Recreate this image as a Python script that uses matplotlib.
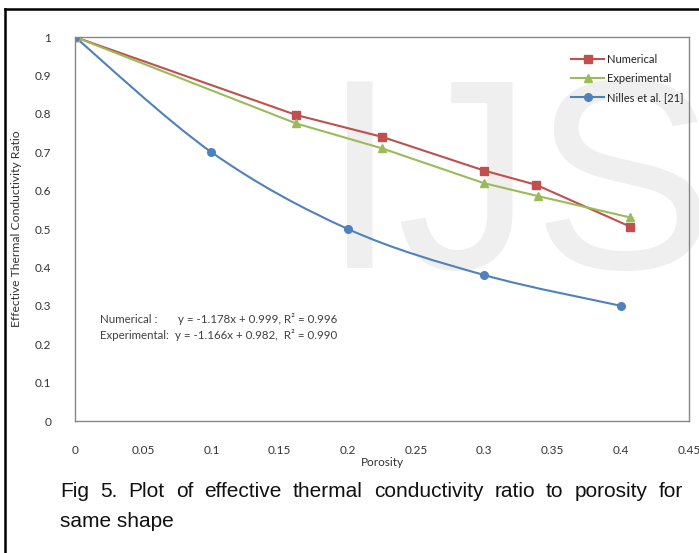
import numpy as np
import matplotlib.pyplot as plt
from matplotlib.path import Path
from matplotlib.patches import PathPatch
from matplotlib.lines import Line2D

# data
num_x = [0, 0.162, 0.225, 0.300, 0.338, 0.407]
num_y = [1.0, 0.797, 0.740, 0.652, 0.615, 0.506]
exp_x = [0, 0.162, 0.225, 0.300, 0.339, 0.407]
exp_y = [1.0, 0.775, 0.710, 0.619, 0.586, 0.530]
nil_x = [0, 0.1, 0.2, 0.3, 0.4]
nil_y = [1.0, 0.7, 0.5, 0.38, 0.3]

x_ticks = [0, 0.05, 0.1, 0.15, 0.2, 0.25, 0.3, 0.35, 0.4, 0.45]
x_labels = ['0', '0.05', '0.1', '0.15', '0.2', '0.25', '0.3', '0.35', '0.4', '0.45']
y_ticks = [0, 0.1, 0.2, 0.3, 0.4, 0.5, 0.6, 0.7, 0.8, 0.9, 1.0]
y_labels = ['0', '0.1', '0.2', '0.3', '0.4', '0.5', '0.6', '0.7', '0.8', '0.9', '1']

caption1 = "Fig 5. Plot of effective thermal conductivity ratio to porosity for"
caption2 = "same shape"

RED, GREEN, BLUE = '#C0504D', '#9BBB59', '#4F81BD'
TXT = '#404040'
W, H = 699, 553


def smooth_path(x, y):
    # excel style smoothed line (bezier through the points)
    pts = np.column_stack([x, y])
    n = len(pts)
    verts = [pts[0]]
    codes = [Path.MOVETO]
    for i in range(n - 1):
        p0 = pts[max(i - 1, 0)]
        p1 = pts[i]
        p2 = pts[i + 1]
        p3 = pts[min(i + 2, n - 1)]
        verts += [p1 + (p2 - p0) / 6, p2 - (p3 - p1) / 6, p2]
        codes += [Path.CURVE4] * 3
    return Path(verts, codes)


plt.rcParams['font.family'] = ['Lato', 'DejaVu Sans']

fig = plt.figure(figsize=(W / 100, H / 100), dpi=100)
fig.patch.set_facecolor('white')

# watermark
fig.text(322 / W, 1 - 268 / H, 'IJS', fontsize=196, color='#efefef',
         family='Liberation Sans', ha='left', va='baseline', zorder=-5)

ax = fig.add_axes([75 / W, 1 - 421 / H, (689 - 75) / W, (421 - 37) / H])
ax.patch.set_alpha(0)

MS = 5.5
ax.plot(num_x, num_y, color=RED, lw=1.5, marker='s', ms=MS, label='Numerical')
ax.plot(exp_x, exp_y, color=GREEN, lw=1.5, marker='^', ms=MS, label='Experimental')
ax.add_patch(PathPatch(smooth_path(nil_x, nil_y), fill=False, edgecolor=BLUE, lw=1.5))
ax.plot(nil_x, nil_y, ls='none', color=BLUE, marker='o', ms=MS)

handles = [Line2D([], [], color=RED, lw=1.5, marker='s', ms=MS),
           Line2D([], [], color=GREEN, lw=1.5, marker='^', ms=MS),
           Line2D([], [], color=BLUE, lw=1.5, marker='o', ms=MS)]
ax.legend(handles, ['Numerical', 'Experimental', 'Nilles et al. [21]'],
          loc='upper right', bbox_to_anchor=(1.0, 0.97), frameon=False,
          fontsize=8, handlelength=2.9, handletextpad=0.3, labelspacing=0.72,
          borderaxespad=0.1, labelcolor='#222222')

ax.set_xlim(0, 0.45)
ax.set_ylim(0, 1)
ax.set_xticks(x_ticks, x_labels)
ax.set_yticks(y_ticks, y_labels)
ax.tick_params(length=0, labelsize=8.5, labelcolor='#333333')
ax.tick_params(axis='x', pad=17)
ax.tick_params(axis='y', pad=17)
for s in ax.spines.values():
    s.set_color('#868686')
    s.set_linewidth(1.0)

ax.set_xlabel('Porosity', fontsize=8.5, color='#333333', labelpad=1)
ax.set_ylabel('Effective Thermal Conductivity Ratio', fontsize=8.7, color='#333333', labelpad=9)

# regression equations
ax.text(0.018, 0.265, 'Numerical :', fontsize=8.3, color=TXT, va='center')
ax.text(0.0755, 0.265, 'y = -1.178x + 0.999, R² = 0.996', fontsize=8.3, color=TXT, va='center')
ax.text(0.018, 0.223, 'Experimental:', fontsize=8.3, color=TXT, va='center')
ax.text(0.0733, 0.223, 'y = -1.166x + 0.982,  R² = 0.990', fontsize=8.3, color=TXT, va='center')

# frame lines of the page
fig.add_artist(Line2D([5 / W, 1], [1 - 9 / H, 1 - 9 / H], color='black', lw=1.8))
fig.add_artist(Line2D([5 / W, 5 / W], [0, 1 - 9 / H], color='black', lw=1.8))

# justified caption
r = fig.canvas.get_renderer()
words = caption1.split()
texts = [fig.text(0, 1 - 497 / H, w, fontsize=15, family='Liberation Sans',
                  color='#111111', va='baseline') for w in words]
widths = [t.get_window_extent(r).width for t in texts]
gap = (683 - 60 - sum(widths)) / (len(words) - 1)
xpos = 60
for t, wd in zip(texts, widths):
    t.set_x(xpos / W)
    xpos += wd + gap
fig.text(60 / W, 1 - 527 / H, caption2, fontsize=15, family='Liberation Sans',
         color='#111111', va='baseline')

fig.savefig('out.png', dpi=100)
